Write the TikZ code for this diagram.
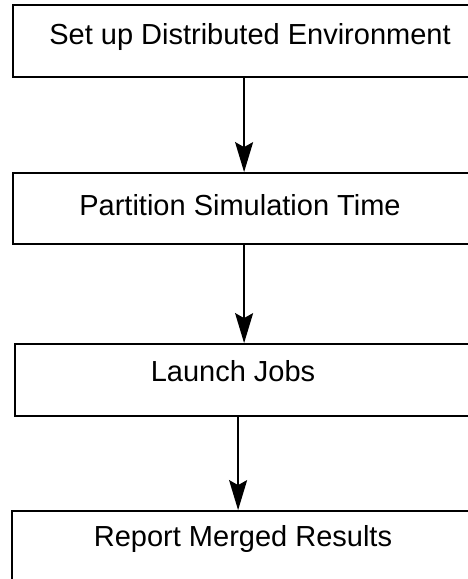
\documentclass[tikz,border=0pt]{standalone}
\usepackage{fontspec}
\setmainfont{Liberation Sans}
\usetikzlibrary{arrows.meta}
\begin{document}
\begin{tikzpicture}[x=1pt,y=-1pt,
  stepbox/.style={draw=black, line width=1.8pt, rectangle, minimum width=467pt, inner sep=0pt},
  lbl/.style={anchor=base, inner sep=0pt, font=\fontsize{29}{34}\selectfont},
  arr/.style={draw=black, line width=1.6pt, -{Stealth[length=30pt 0,width=18pt 0,inset=5pt]}}]
\useasboundingbox (0,0) rectangle (468,579);
\node[stepbox, minimum height=72pt] (b1) at (246.5,41) {};
\node[stepbox, minimum height=71pt] (b2) at (246.5,208.5) {};
\node[stepbox, minimum height=72pt] (b3) at (248.5,380) {};
\node[stepbox, minimum height=72pt] (b4) at (245.5,547) {};
\node[lbl] (t1) at (250,44) {Set up Distributed Environment};
\node[lbl] (t2) at (240,215) {Partition Simulation Time};
\node[lbl] (t3) at (233,381) {Launch Jobs};
\node[lbl] (t4) at (243,546) {Report Merged Results};
\draw[arr] ([xshift=232pt]b1.south west) -- ([xshift=232pt]b2.north west);
\draw[arr] ([xshift=232pt]b2.south west) -- ([xshift=230pt]b3.north west);
\draw[arr] ([xshift=224pt]b3.south west) -- ([xshift=227pt]b4.north west);
\end{tikzpicture}
\end{document}
